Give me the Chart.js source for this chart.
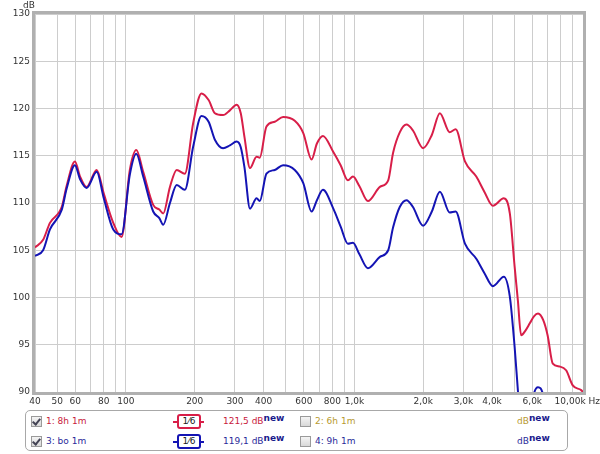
<!DOCTYPE html>
<html><head><meta charset="utf-8">
<script src="https://cdn.jsdelivr.net/npm/chart.js@4"></script>
<style>
body{margin:0;background:#fff;width:600px;height:454px;overflow:hidden;font-family:"DejaVu Sans",sans-serif;font-size:9px;position:relative;}
#wrap{position:absolute;left:0;top:0;width:600px;height:408px;}
.t{position:absolute;white-space:nowrap;line-height:14px;}
#legend{position:absolute;left:25px;top:410px;width:543px;height:41px;border:1px solid #a8a8a8;border-radius:5px;box-sizing:border-box;}
.cb{position:absolute;width:9px;height:9px;border:1px solid #9a9a9a;background:linear-gradient(#f4f4f4,#d8d8d8);}
.ck{position:absolute;left:2px;top:0px;width:3px;height:6px;border-right:2px solid #445;border-bottom:2px solid #445;transform:rotate(40deg);}
.frac{position:absolute;width:20px;height:11px;border-radius:3px;border:2px solid;background:#fff;font-size:9px;line-height:11px;text-align:center;color:#222;}
.tail{position:absolute;width:4px;height:2px;}
sup{font-weight:bold;font-size:9px;color:#1a1a8c;vertical-align:0;position:relative;top:-3px;}
</style></head>
<body>
<div id="wrap"><canvas id="c" width="600" height="408"></canvas></div>
<div class="t" style="left:23px;top:-2px;color:#333;">dB</div>
<div id="legend"></div>
<div class="cb" style="left:31px;top:416px;"><div class="ck"></div></div>
<div class="t" style="left:46px;top:414px;color:#c8203c;">1: 8h 1m</div>
<div class="tail" style="left:173px;top:421px;background:#d81e48;"></div>
<div class="frac" style="left:177px;top:414px;border-color:#d81e48;">1⁄6</div>
<div class="tail" style="left:200px;top:421px;background:#d81e48;"></div>
<div class="t" style="left:223px;top:414px;color:#c8203c;">121,5 dB<sup>new</sup></div>
<div class="cb" style="left:300px;top:416px;"></div>
<div class="t" style="left:315px;top:414px;color:#b89a30;">2: 6h 1m</div>
<div class="t" style="left:517px;top:414px;color:#b89a30;">dB<sup>new</sup></div>

<div class="cb" style="left:31px;top:436px;"><div class="ck"></div></div>
<div class="t" style="left:46px;top:434px;color:#2a2a9a;">3: bo 1m</div>
<div class="tail" style="left:173px;top:441px;background:#1414b4;"></div>
<div class="frac" style="left:177px;top:434px;border-color:#1414b4;">1⁄6</div>
<div class="tail" style="left:200px;top:441px;background:#1414b4;"></div>
<div class="t" style="left:223px;top:434px;color:#2a2a9a;">119,1 dB<sup>new</sup></div>
<div class="cb" style="left:300px;top:436px;"></div>
<div class="t" style="left:315px;top:434px;color:#2a2a9a;">4: 9h 1m</div>
<div class="t" style="left:517px;top:434px;color:#2a2a9a;">dB<sup>new</sup></div>

<script>
const freqs = [40,43.4,46.5,52.4,55,59.8,63,67.3,74.5,80,88,95.7,104,111,119,131.6,140,145.6,155.8,166.8,181,197,214,230,245,266,285,305,318,330,349,373,385,412,448,487,548,597,649,685,728,808,870,936,985,1050,1145,1292,1405,1475,1580,1688,1800,1996,2180,2364,2608,2772,3044,3412,3700,4036,4505,4784,5020,5188,5360,5600,5860,6100,6355,6700,7000,7376,7890,8435,9020,9817,10000];
const red8h = [105.3,106.1,107.9,109.6,111.8,114.4,112.8,111.7,113.5,111.0,107.9,106.4,113.5,115.6,113.3,109.8,109.3,108.9,111.7,113.5,113.1,118.5,121.6,120.9,119.5,119.3,119.8,120.4,119.5,117.0,113.7,114.9,114.8,118.1,118.6,119.1,118.7,117.4,114.6,116.3,117.1,115.4,114.0,112.4,112.8,111.8,110.2,111.7,112.4,115.3,117.5,118.3,117.7,115.8,117.2,119.5,117.5,117.8,114.4,112.8,111.2,109.7,110.5,108.9,103.3,99.7,96.0,96.5,97.3,98.0,98.3,97.6,96.0,93.0,92.7,92.3,90.7,90.2,90.0];
const blueBo = [104.4,105.0,107.2,109.3,111.5,114.0,112.5,111.6,113.3,110.5,107.2,106.7,113.0,115.2,112.8,109.1,108.4,107.7,110.0,111.9,111.4,116.0,119.2,118.6,116.7,115.8,116.1,116.5,115.9,113.8,109.4,110.5,110.2,113.1,113.5,114.0,113.5,112.1,109.1,110.3,111.4,109.4,107.5,105.7,105.8,104.6,103.1,104.3,105.0,107.4,109.6,110.3,109.6,107.6,109.1,111.2,109.0,109.1,105.7,104.1,102.6,101.2,102.2,100.1,94.8,90.2,86.0,85.0,87.0,89.8,90.5,89.6,86.0,84.0,84.0,84.0,83.0,82.0,82.0];
const gridFreqs = [40,50,60,70,80,90,100,200,300,400,500,600,700,800,900,1000,2000,3000,4000,5000,6000,7000,8000,9000,10000];
const labelFreqs = [40,50,60,80,100,200,300,400,600,800,1000,2000,3000,4000,6000,10000];
const labelTexts = ['40','50','60','80','100','200','300','400','600','800','1,0k','2,0k','3,0k','4,0k','6,0k','10,00k Hz    '];
const yTicks = [90,95,100,105,110,115,120,125,130];

const toPts = arr => freqs.map((f,i)=>({x:f,y:arr[i]}));
const framePlugin = {
  id:'frame',
  afterDatasetsDraw(chart){
    const {ctx, chartArea:a} = chart;
    ctx.save();
    ctx.strokeStyle = '#b0b0b0';
    ctx.lineWidth = 3;
    ctx.strokeRect(a.left-1.5, a.top-1.5, a.right-a.left+3, a.bottom-a.top+3);
    ctx.restore();
  }
};
new Chart(document.getElementById('c'), {
  type:'line',
  data:{datasets:[
    {label:'3: bo 1m', data:toPts(blueBo), borderColor:'#1414b4', borderWidth:2, pointRadius:0, cubicInterpolationMode:'monotone', clip:0, fill:false},
    {label:'1: 8h 1m', data:toPts(red8h), borderColor:'#d81e48', borderWidth:2, pointRadius:0, cubicInterpolationMode:'monotone', clip:0, fill:false}
  ]},
  options:{
    responsive:false, animation:false,
    layout:{padding:{left:0,right:17,top:14,bottom:0}},
    plugins:{legend:{display:false},tooltip:{enabled:false}},
    scales:{
      x:{type:'logarithmic',min:40,max:10000,
        afterBuildTicks:s=>{s.ticks=gridFreqs.map(v=>({value:v}));},
        afterFit:s=>{s.height=16;s.paddingLeft=0;s.paddingRight=0;},
        ticks:{autoSkip:false,maxRotation:0,minRotation:0,padding:4,color:'#333',font:{family:'DejaVu Sans',size:9},
          callback:(v)=>{const k=labelFreqs.indexOf(v);return k>=0?labelTexts[k]:'';}},
        grid:{color:'#cdcdcd',drawTicks:false,lineWidth:1},
        border:{display:false}
      },
      y:{min:90,max:130,
        afterBuildTicks:s=>{s.ticks=yTicks.map(v=>({value:v}));},
        afterFit:s=>{s.width=35;s.paddingTop=0;s.paddingBottom=0;},
        ticks:{padding:5,color:'#333',font:{family:'DejaVu Sans',size:9}},
        grid:{color:'#cdcdcd',drawTicks:false,lineWidth:1},
        border:{display:false}
      }
    }
  },
  plugins:[framePlugin]
});
</script>
</body></html>
